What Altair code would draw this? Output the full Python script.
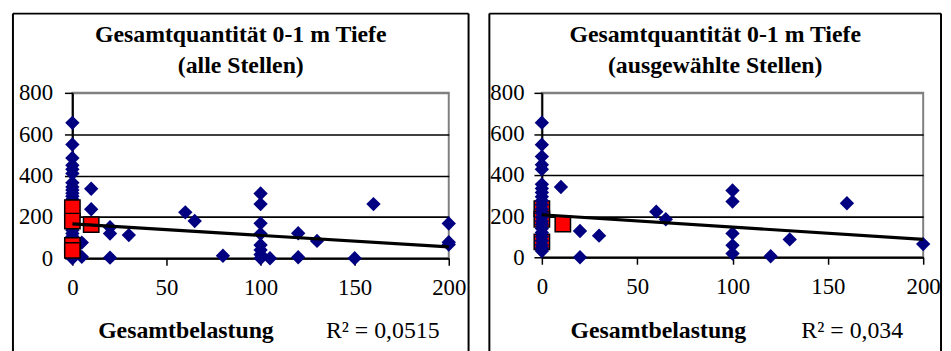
import altair as alt
import pandas as pd

FONT = "Liberation Serif, Times New Roman, serif"

# ---------------- data: left panel (alle Stellen) ----------------
left_blue_x = [0, 0, 0, 0, 0, 0, 0, 0, 0, 0, 0, 0, 0, 0, 0, 0, 0, 0, 0, 0,
               0, 0, 0, 0, 0, 0, 0, 0, 0, 0, 0,
               5, 5, 10, 10, 20, 20, 20, 30, 60, 65, 80,
               100, 100, 100, 100, 100, 100, 100, 100, 105,
               120, 120, 130, 150, 160, 200, 200, 200]
left_blue_y = [655, 550, 485, 450, 430, 410, 365, 345, 330, 315, 300, 285, 270, 255, 240, 225, 210, 195, 180, 165,
               150, 135, 120, 105, 90, 75, 60, 45, 30, 15, 0,
               76, 7, 336, 237, 150, 120, 3, 112, 222, 180, 12,
               313, 262, 169, 118, 64, 40, 18, 0, 0,
               121, 5, 84, 0, 262, 168, 78, 66]
left_red_x = [0, 0, 0, 0, 10]
left_red_y = [245, 180, 62, 38, 163]
left_trend_x = [0, 200]
left_trend_y = [166, 55]

# ---------------- data: right panel (ausgewählte Stellen) ----------------
right_blue_x = [0, 0, 0, 0, 0, 0, 0, 0, 0, 0, 0, 0, 0, 0, 0, 0, 0, 0, 0, 0, 0, 0, 0,
                10, 20, 20, 30, 60, 65, 100, 100, 100, 100, 100, 120, 130, 160, 200]
right_blue_y = [655, 548, 490, 450, 428, 355, 335, 315, 295, 275, 255, 235, 215, 195, 175, 160, 140, 120, 100, 80, 60, 45, 30,
                342, 128, 0, 105, 222, 185, 325, 271, 116, 58, 18, 5, 87, 263, 64]
right_red_x = [0, 0, 0, 11]
right_red_y = [237, 185, 75, 162]
right_trend_x = [0, 200]
right_trend_y = [207, 87]

x_ticks = [0, 50, 100, 150, 200]
y_ticks = [0, 200, 400, 600, 800]
title_line1 = "Gesamtquantität 0-1 m Tiefe"
left_title2 = "(alle Stellen)"
right_title2 = "(ausgewählte Stellen)"
x_title = "Gesamtbelastung"
left_r2 = "R² = 0,0515"
right_r2 = "R² = 0,034"


def panel(bx, by, rx, ry, tx, ty, title2, r2, width, height, cx, xtx, r2x,
          bl, br, ypad, red_on_top):
    xs = alt.X("x:Q", scale=alt.Scale(domain=[0, 200], nice=False, zero=False),
               axis=alt.Axis(values=x_ticks, grid=False, tickSize=7, labelPadding=12,
                             labelFlush=False),
               title=None)
    ys = alt.Y("y:Q", scale=alt.Scale(domain=[0, 800], nice=False),
               axis=alt.Axis(values=y_ticks, grid=True, tickSize=8, labelPadding=ypad,
                             labelFlush=False,
                             gridColor={"condition": {"test": "datum.value === 800", "value": "#808080"},
                                        "value": "#000000"},
                             gridWidth=1.6),
               title=None)
    red = alt.Chart(pd.DataFrame({"x": rx, "y": ry})).mark_point(
        shape="square", filled=True, fill="#ff0000", stroke="#000000", strokeWidth=1.5,
        size=240, opacity=1).encode(x=xs, y=ys)
    blue = alt.Chart(pd.DataFrame({"x": bx, "y": by})).mark_point(
        shape="diamond", filled=True, color="#000080", size=210, opacity=1).encode(x=xs, y=ys)
    trend = alt.Chart(pd.DataFrame({"x": tx, "y": ty})).mark_line(
        color="#000000", strokeWidth=3.2).encode(x=xs, y=ys)

    one = pd.DataFrame({"a": [0]})
    t1 = alt.Chart(one).mark_text(font=FONT, fontSize=24, fontWeight="bold", align="center",
                                  baseline="alphabetic", text=title_line1).encode(
        x=alt.value(cx), y=alt.value(-51))
    t2 = alt.Chart(one).mark_text(font=FONT, fontSize=24, fontWeight="bold", align="center",
                                  baseline="alphabetic", text=title2).encode(
        x=alt.value(cx), y=alt.value(-20))
    xt = alt.Chart(one).mark_text(font=FONT, fontSize=24, fontWeight="bold", align="left",
                                  baseline="alphabetic", text=x_title).encode(
        x=alt.value(xtx), y=alt.value(247))
    rt = alt.Chart(one).mark_text(font=FONT, fontSize=24, align="left",
                                  baseline="alphabetic", text=r2).encode(
        x=alt.value(r2x), y=alt.value(247))

    b1 = alt.Chart(one).mark_rule(color="#000000", strokeWidth=2).encode(
        x=alt.value(bl), y=alt.value(-80), y2=alt.value(262))
    b2 = alt.Chart(one).mark_rule(color="#000000", strokeWidth=2).encode(
        x=alt.value(br), y=alt.value(-80), y2=alt.value(262))
    b3 = alt.Chart(one).mark_rule(color="#000000", strokeWidth=2).encode(
        x=alt.value(bl), x2=alt.value(br), y=alt.value(-80))

    pts = [blue, red] if red_on_top else [red, blue]
    return alt.layer(*pts, trend, t1, t2, xt, rt, b1, b2, b3).properties(
        width=width, height=height)


left = panel(left_blue_x, left_blue_y, left_red_x, left_red_y, left_trend_x, left_trend_y,
             left_title2, left_r2, 380, 167, 170, 26, 256, -60, 400, 12, True)
right = panel(right_blue_x, right_blue_y, right_red_x, right_red_y, right_trend_x, right_trend_y,
              right_title2, right_r2, 385, 166, 175, 29, 262, -53, 403, 10, False)

chart = alt.hconcat(left, right, spacing=94, bounds="flush").properties(
    padding={"left": 3, "top": 2, "right": 0, "bottom": 0},
    background="#ffffff",
).configure_view(
    stroke="#808080", strokeWidth=2
).configure_axis(
    labelFont=FONT, labelFontSize=23, labelColor="#000000",
    tickColor="#000000", tickWidth=1.5,
    domainColor="#000000", domainWidth=2,
)

chart.save("out.html", embed_options={"renderer": "svg", "actions": False})
